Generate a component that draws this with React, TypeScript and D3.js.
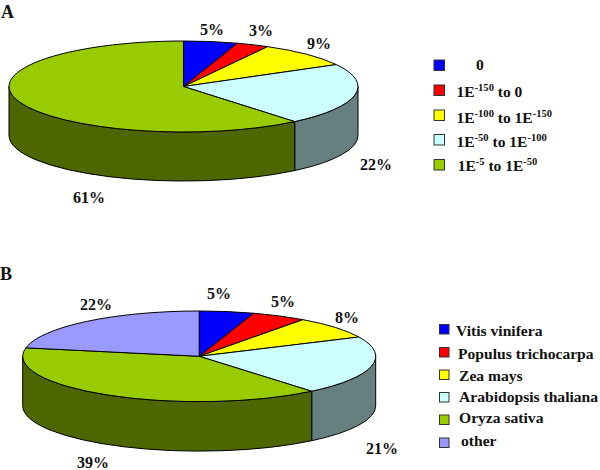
import React from "react";
import * as d3 from "d3";

const WIDTH = 600;
const HEIGHT = 470;

const valuesA = [5, 3, 9, 22, 61];
const legendA = ["0", "1E-150 to 0", "1E-100 to 1E-150", "1E-50 to 1E-100", "1E-5 to 1E-50"];

const valuesB = [5, 5, 8, 21, 39, 22];
const legendB = ["Vitis vinifera", "Populus trichocarpa", "Zea mays", "Arabidopsis thaliana", "Oryza sativa", "other"];

const topColors = ["#0000ff", "#ff0000", "#ffff00", "#ccffff", "#99cc00", "#9999ff"];
const wallColors = ["#000080", "#800000", "#808000", "#668080", "#4d6600", "#4d4d80"];

// layout
const pieA = { cx: 183.5, cy: 86.5, rx: 174.5, ry: 45.5, depth: 49 };
const pieB = { cx: 199.2, cy: 356.3, rx: 176.5, ry: 45.3, depth: 49.5 };
const labelPosA = [[212, 34.5], [261, 35.5], [319, 48.5], [376, 170], [89, 203]];
const labelPosB = [[219, 299], [283, 306.5], [347, 323], [382, 454], [93, 468], [96, 310]];
const legendBoxA = { x: 434, size: 10.5, ys: [60, 85, 110, 134.5, 159.5] };
const legendTextA = { xs: [476, 456.5, 456.5, 456.5, 457.7], ys: [70, 96.5, 123, 146.5, 170.5] };
const legendBoxB = { x: 439.5, size: 9.5, ys: [324.5, 347.5, 370, 392.5, 415, 438] };
const legendTextB = { xs: [456, 458, 459, 459, 459, 461], ys: [335.5, 358.5, 381, 402, 423, 445.5] };

type PieGeom = typeof pieA;

const wallPath = (a0: number, a1: number, drop: number) => {
  // d3 angles start at 12 o'clock, canvas angles at 3 o'clock
  const start = Math.max(a0, Math.PI / 2) - Math.PI / 2;
  const end = Math.min(a1, (3 * Math.PI) / 2) - Math.PI / 2;
  if (end <= start) return null;
  const p = d3.path();
  p.arc(0, 0, 1, start, end);
  p.lineTo(Math.cos(end), Math.sin(end) + drop);
  p.arc(0, drop, 1, end, start, true);
  p.closePath();
  return p.toString();
};

function Pie3D({ values, geom, labelPos }: { values: number[]; geom: PieGeom; labelPos: number[][] }) {
  const slices = d3.pie<number>().sort(null)(values);
  const arc = d3.arc<d3.PieArcDatum<number>>().innerRadius(0).outerRadius(1);
  const drop = geom.depth / geom.ry;
  return (
    <g>
      <g transform={`translate(${geom.cx},${geom.cy}) scale(${geom.rx},${geom.ry})`}>
        {slices.map((s, i) => {
          const d = wallPath(s.startAngle, s.endAngle, drop);
          return d ? <path key={i} d={d} fill={wallColors[i]} stroke="#000" strokeWidth={1} vectorEffect="non-scaling-stroke" /> : null;
        })}
        {slices.map((s, i) => (
          <path key={i} d={arc(s) as string} fill={topColors[i]} stroke="#000" strokeWidth={1} vectorEffect="non-scaling-stroke" />
        ))}
      </g>
      {values.map((v, i) => (
        <text key={i} x={labelPos[i][0]} y={labelPos[i][1]} textAnchor="middle" fontSize={16}>
          {v}%
        </text>
      ))}
    </g>
  );
}

function LegendLabel({ label, x, y, size }: { label: string; x: number; y: number; size: number }) {
  // exponents like -150 go up as superscript
  const parts = label.split(/(-\d+)/);
  return (
    <text x={x} y={y} fontSize={size}>
      {parts.map((part, i) =>
        i % 2 === 1 ? (
          <tspan key={i} dy={-6} fontSize={size * 0.68}>{part}</tspan>
        ) : (
          <tspan key={i} dy={i > 0 ? 6 : 0}>{part}</tspan>
        )
      )}
    </text>
  );
}

function Legend({ labels, box, text, size }: { labels: string[]; box: { x: number; size: number; ys: number[] }; text: { xs: number[]; ys: number[] }; size: number }) {
  return (
    <g>
      {labels.map((label, i) => (
        <g key={label}>
          <rect x={box.x} y={box.ys[i]} width={box.size} height={box.size} fill={topColors[i]} stroke="#333" strokeWidth={1} />
          <LegendLabel label={label} x={text.xs[i]} y={text.ys[i]} size={size} />
        </g>
      ))}
    </g>
  );
}

export default function App() {
  return (
    <svg
      width={WIDTH}
      height={HEIGHT}
      style={{ position: "absolute", left: 0, top: 0, background: "#fff" }}
      fontFamily="'Liberation Serif', serif"
      fontWeight="bold"
      fill="#111"
    >
      <text x={1} y={18} fontSize={18}>A</text>
      <text x={0} y={280} fontSize={18}>B</text>
      <Pie3D values={valuesA} geom={pieA} labelPos={labelPosA} />
      <Pie3D values={valuesB} geom={pieB} labelPos={labelPosB} />
      <Legend labels={legendA} box={legendBoxA} text={legendTextA} size={15.5} />
      <Legend labels={legendB} box={legendBoxB} text={legendTextB} size={15.6} />
    </svg>
  );
}
